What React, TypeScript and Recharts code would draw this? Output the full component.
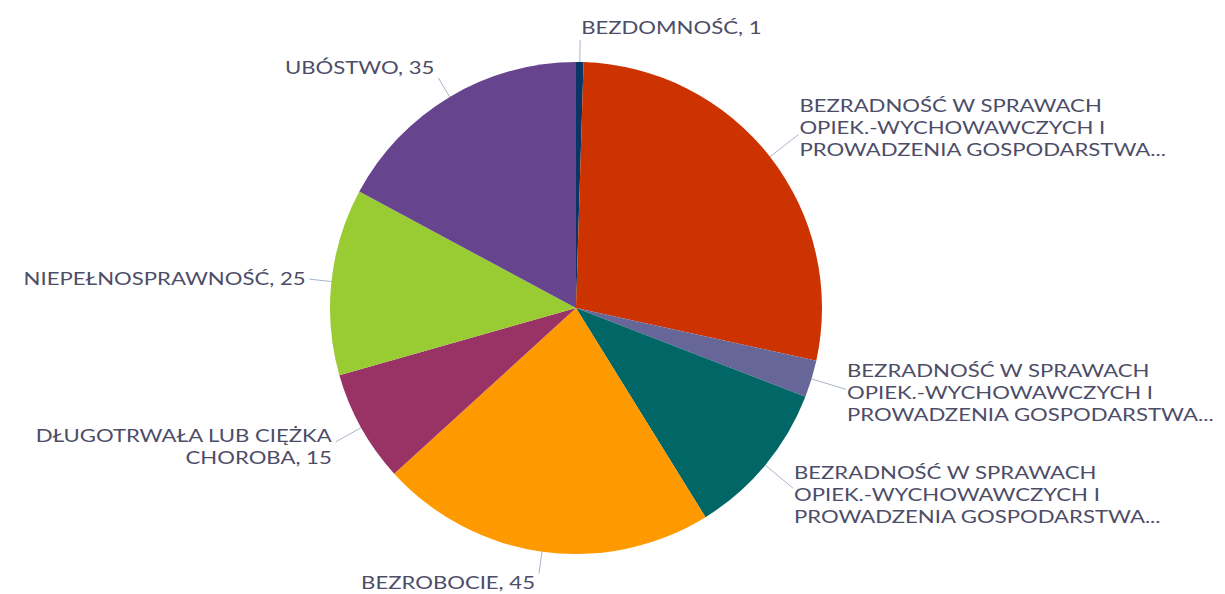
import { PieChart, Pie, Cell } from "recharts";

const categories = [
  "BEZDOMNOŚĆ",
  "BEZRADNOŚĆ W SPRAWACH\nOPIEK.-WYCHOWAWCZYCH I\nPROWADZENIA GOSPODARSTWA...",
  "BEZRADNOŚĆ W SPRAWACH\nOPIEK.-WYCHOWAWCZYCH I\nPROWADZENIA GOSPODARSTWA...",
  "BEZRADNOŚĆ W SPRAWACH\nOPIEK.-WYCHOWAWCZYCH I\nPROWADZENIA GOSPODARSTWA...",
  "BEZROBOCIE",
  "DŁUGOTRWAŁA LUB CIĘŻKA\nCHOROBA",
  "NIEPEŁNOSPRAWNOŚĆ",
  "UBÓSTWO",
];

const values = [1, 57, 5, 21, 45, 15, 25, 35];

const colors = [
  "#0a3566",
  "#cc3300",
  "#666699",
  "#006666",
  "#ff9900",
  "#993366",
  "#99cc33",
  "#66448e",
];

const data = categories.map((name, i) => ({ name, value: values[i] }));

const RADIAN = Math.PI / 180;
const TEXT = "#4d4d68";
const LINE = "#a9b4cc";
const LINE_H = 22;
// the original font is much wider than anything installed, so stretch it a bit
const STRETCH = 1.23;

function renderLabel(props: any) {
  const { cx, cy, midAngle, outerRadius, name, value, index } = props;
  const cos = Math.cos(-midAngle * RADIAN);
  const sin = Math.sin(-midAngle * RADIAN);
  const lines: string[] = String(name).split("\n");
  if (!lines[lines.length - 1].endsWith("...")) {
    lines[lines.length - 1] += ", " + value;
  }
  const r2 = outerRadius + 22 + 7 * (lines.length - 1);
  const sx = cx + outerRadius * cos;
  const sy = cy + outerRadius * sin;
  const ex = cx + r2 * cos;
  const ey = cy + r2 * sin;
  const right = cos >= 0;
  const tx = ex + (right ? 1 : -4);
  const shift = sin * (sin < 0 ? 13 : 9);
  const top = ey + shift - ((lines.length - 1) * LINE_H) / 2;
  return (
    <g key={"lbl" + index}>
      <line x1={sx} y1={sy} x2={ex} y2={ey} stroke={LINE} strokeWidth={1} />
      <text
        transform={`translate(${tx} ${top}) scale(${STRETCH} 1)`}
        x={0}
        y={0}
        fill={TEXT}
        fontSize={18}
        fontFamily="Lato, 'Open Sans', sans-serif"
        textAnchor={right ? "start" : "end"}
        dominantBaseline="central"
      >
        {lines.map((l, i) => (
          <tspan key={i} x={0} dy={i === 0 ? 0 : LINE_H}>
            {l}
          </tspan>
        ))}
      </text>
    </g>
  );
}

export default function App() {
  return (
    <div style={{ position: "absolute", left: 0, top: 0, width: 1225, height: 594, background: "#fff" }}>
      <PieChart width={1225} height={594} margin={{ top: 0, right: 0, bottom: 0, left: 0 }}>
        <Pie
          data={data}
          dataKey="value"
          nameKey="name"
          cx={576}
          cy={308}
          outerRadius={246}
          startAngle={90}
          endAngle={-270}
          stroke="none"
          label={renderLabel}
          labelLine={false}
          isAnimationActive={false}
        >
          {data.map((_, i) => (
            <Cell key={i} fill={colors[i]} />
          ))}
        </Pie>
      </PieChart>
    </div>
  );
}
